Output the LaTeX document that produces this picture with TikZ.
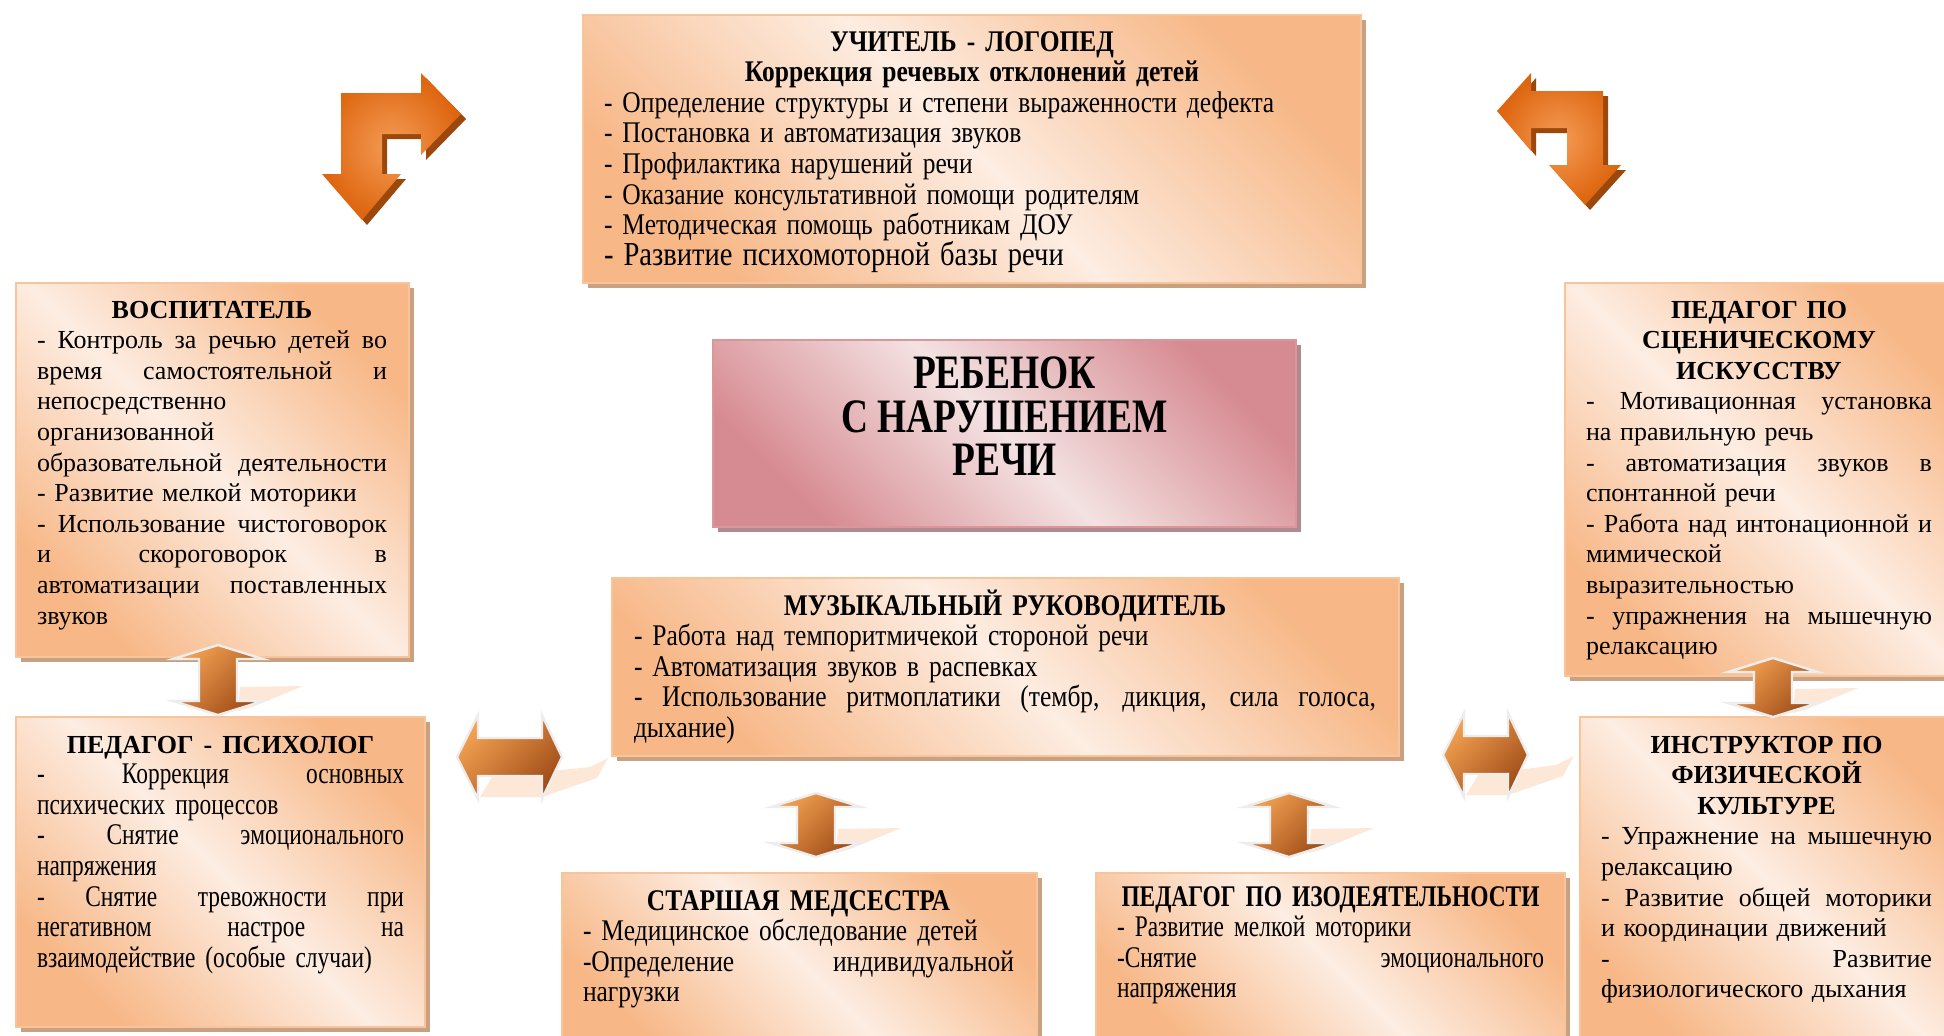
\documentclass[tikz,border=0pt]{standalone}
\usepackage{fontspec}
\setmainfont{Liberation Serif}
\newfontfamily\narrowfont[FakeStretch=0.85]{Liberation Serif}
\newfontfamily\tallfont[FakeStretch=0.78]{Liberation Serif}
\usetikzlibrary{shadows, fit, calc}

\definecolor{peachdark}{RGB}{247,183,134}
\definecolor{peachlight}{RGB}{253,237,226}
\definecolor{peachedge}{RGB}{248,196,156}
\definecolor{peachshadow}{RGB}{201,160,128}
\definecolor{rosedark}{RGB}{214,138,145}
\definecolor{roselight}{RGB}{244,226,226}
\definecolor{roseedge}{RGB}{217,150,155}
\definecolor{roseshadow}{RGB}{176,138,144}
\definecolor{bentdark}{RGB}{222,102,16}
\definecolor{bentlight}{RGB}{244,156,86}
\definecolor{bentshadow}{RGB}{156,72,12}
\definecolor{arrowlight}{RGB}{243,162,82}
\definecolor{arrowdark}{RGB}{160,76,24}
\definecolor{glowpeach}{RGB}{253,232,216}

\newcommand\ttl[1]{\makebox[\hsize]{\bfseries #1}}
\newcommand\jst[1]{\leavevmode\hbox to\hsize{\spaceskip=0.25em plus 1fil\relax #1}}

% double block arrows
\newcommand\vbiarrow[3]{% centre x, top tip, bottom tip
  \fill[glow] (#1+22,#3-28) -- (#1+85,#3-29) -- (#1+34,#3-8) -- (#1+20,#3-4) -- cycle;
  \path[biarrow] (#1,#2) -- (#1+45,#2+14) -- (#1+19,#2+14) -- (#1+19,#3-14) -- (#1+45,#3-14) -- (#1,#3)
    -- (#1-45,#3-14) -- (#1-19,#3-14) -- (#1-19,#2+14) -- (#1-45,#2+14) -- cycle;
}
\newcommand\hbiarrow[3]{% left tip, right tip, centre y
  \fill[glow] (#1+23,#3+40) -- (#1+35,#3+20) -- (#2+28,#3+10) -- (#2+46,#3+1) -- (#2+35,#3+21) -- (#2-20,#3+40) -- cycle;
  \path[biarrow] (#1,#3) -- (#1+21,#3-42) -- (#1+21,#3-19) -- (#2-20,#3-19) -- (#2-20,#3-42) -- (#2,#3)
    -- (#2-20,#3+42) -- (#2-20,#3+19) -- (#1+21,#3+19) -- (#1+21,#3+42) -- cycle;
}

\tikzset{
  cardbase/.style={line width=0.8pt, inner sep=0pt},
  card/.style={cardbase, draw=peachedge, top color=peachdark, bottom color=peachdark, middle color=peachlight,
    shading angle=-45, drop shadow={shadow xshift=2.5pt, shadow yshift=-2.5pt, fill=peachshadow, opacity=1}},
  childcard/.style={cardbase, draw=roseedge, top color=rosedark, bottom color=rosedark, middle color=roselight,
    shading angle=-45, drop shadow={shadow xshift=2.5pt, shadow yshift=-2.5pt, fill=roseshadow, opacity=1}},
  plain/.style={font=\fontsize{13}{15.3}\selectfont, align=left, inner sep=0pt, anchor=base},
  narrow/.style={font=\narrowfont\fontsize{15}{15.3}\selectfont, align=left, inner sep=0pt, anchor=base},
  tall/.style={font=\tallfont\fontsize{15}{15.3}\selectfont, align=left, inner sep=0pt, anchor=base},
  bent/.style={inner color=bentlight, outer color=bentdark},
  bentshade/.style={fill=bentshadow},
  biarrow/.style={top color=arrowlight, bottom color=arrowdark, shading angle=45,
    draw=black!7, line width=1.2pt, line join=miter},
  glow/.style={fill=glowpeach},
}

\begin{document}
\begin{tikzpicture}[x=0.5pt, y=-0.5pt]
  \useasboundingbox (0,0) rectangle (1944,1035);
  \clip (0,0) rectangle (1944,1035);
  \fill[white] (0,0) rectangle (1944,1035);

  % boxes
  \node[card, fit={(583,15) (1361,283)}] (logo) {};
  \node[card, fit={(16,283) (409,657)}] (vosp) {};
  \node[card, fit={(16,717) (425,1027)}] (psych) {};
  \node[childcard, fit={(713,340) (1296,527)}] (child) {};
  \node[card, fit={(612,578) (1399,756)}] (music) {};
  \node[card, fit={(562,873) (1037,1050)}] (med) {};
  \node[card, fit={(1096,873) (1565,1050)}] (izo) {};
  \node[card, fit={(1565,283) (1965,676)}] (scen) {};
  \node[card, fit={(1580,717) (1965,1050)}] (instr) {};

  % texts
  \node[narrow, text width=368pt] (logotext) at (972,51) {\ttl{УЧИТЕЛЬ - ЛОГОПЕД}\\
    \ttl{Коррекция речевых отклонений детей}\\
    - Определение структуры и степени выраженности дефекта\\
    - Постановка и автоматизация звуков\\
    - Профилактика нарушений речи\\
    - Оказание консультативной помощи родителям\\
    - Методическая помощь работникам ДОУ\\
    {\fontsize{16.8}{15.3}\selectfont - Развитие психомоторной базы речи}};

  \node[plain, text width=175pt] (vosptext) at (212,318) {\ttl{ВОСПИТАТЕЛЬ}\\
    \jst{- Контроль за речью детей во}\\
    \jst{время самостоятельной и}\\
    непосредственно\\
    организованной\\
    \jst{образовательной деятельности}\\
    - Развитие мелкой моторики\\
    \jst{- Использование чистоговорок}\\
    \jst{и скороговорок в}\\
    \jst{автоматизации поставленных}\\
    звуков};

  \node[tall, text width=183.5pt] (psychtext) at (220.5,753) {\ttl{\rmfamily\fontsize{13}{15.3}\selectfont ПЕДАГОГ - ПСИХОЛОГ}\\
    \jst{- Коррекция основных}\\
    психических процессов\\
    \jst{- Снятие эмоционального}\\
    напряжения\\
    \jst{- Снятие тревожности при}\\
    \jst{негативном настрое на}\\
    взаимодействие (особые случаи)};

  \node[tall, font=\tallfont\bfseries\fontsize{24}{21.75}\selectfont, align=center, anchor=center] (childtext)
    at ([yshift=8.5pt]child.center) {РЕБЕНОК\\ С НАРУШЕНИЕМ\\ РЕЧИ};

  \node[narrow, text width=371pt] (musictext) at (1005,615) {\ttl{МУЗЫКАЛЬНЫЙ РУКОВОДИТЕЛЬ}\\
    - Работа над темпоритмичекой стороной речи\\
    - Автоматизация звуков в распевках\\
    \jst{- Использование ритмоплатики (тембр, дикция, сила голоса,}\\
    дыхание)};

  \node[narrow, text width=215.5pt] (medtext) at (798.5,910) {\ttl{СТАРШАЯ МЕДСЕСТРА}\\
    - Медицинское обследование детей\\
    \jst{-Определение индивидуальной}\\
    нагрузки};

  \node[tall, text width=213.5pt] (izotext) at (1330.5,906) {\ttl{ПЕДАГОГ ПО ИЗОДЕЯТЕЛЬНОСТИ}\\
    - Развитие мелкой моторики\\
    \jst{-Снятие эмоционального}\\
    напряжения};

  \node[plain, text width=173pt] (scentext) at (1759,318) {\ttl{ПЕДАГОГ ПО}\\
    \ttl{СЦЕНИЧЕСКОМУ}\\
    \ttl{ИСКУССТВУ}\\
    \jst{- Мотивационная установка}\\
    на правильную речь\\
    \jst{- автоматизация звуков в}\\
    спонтанной речи\\
    \jst{- Работа над интонационной и}\\
    мимической\\
    выразительностью\\
    \jst{- упражнения на мышечную}\\
    релаксацию};

  \node[plain, text width=165.5pt] (instrtext) at (1766.5,753) {\ttl{ИНСТРУКТОР ПО}\\
    \ttl{ФИЗИЧЕСКОЙ}\\
    \ttl{КУЛЬТУРЕ}\\
    \jst{- Упражнение на мышечную}\\
    релаксацию\\
    \jst{- Развитие общей моторики}\\
    и координации движений\\
    \jst{- Развитие}\\
    физиологического дыхания};

  % bent arrows at the top
  \foreach \dx/\dy/\sty in {5/5/bentshade, 0/0/bent}{
    \path[\sty, shift={(\dx,\dy)}] (341,93) -- (421,93) -- (421,73) -- (461,114) -- (421,155) -- (421,134)
      -- (382,134) -- (382,174) -- (401,174) -- (362,220) -- (322,174) -- (341,174) -- cycle;
    \path[\sty, shift={(\dx,\dy)}] (1603,91) -- (1531,91) -- (1531,73) -- (1497,111) -- (1531,151) -- (1531,128)
      -- (1567,128) -- (1567,165) -- (1549,165) -- (1585,205) -- (1621,165) -- (1603,165) -- cycle;
  }

  % double arrows
  \vbiarrow{218}{645}{715}
  \vbiarrow{1773}{658}{717}
  \vbiarrow{816}{793}{857}
  \vbiarrow{1289}{793}{857}
  \hbiarrow{457}{562}{757}
  \hbiarrow{1443}{1528}{755}
\end{tikzpicture}
\end{document}
